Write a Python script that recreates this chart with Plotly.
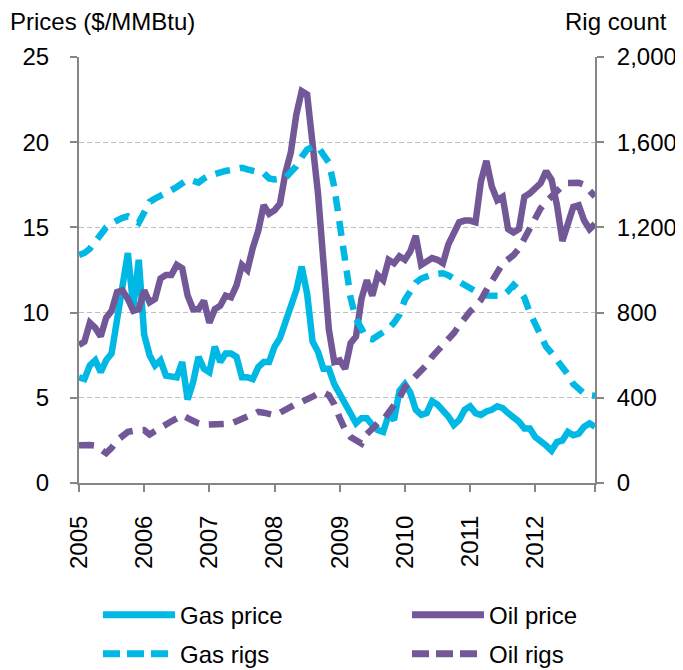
import plotly.graph_objects as go

# monthly, Jan 2005 .. Dec 2012
months = list(range(96))
years = ["2005", "2006", "2007", "2008", "2009", "2010", "2011", "2012"]

gas_price = [
    6.2, 6.1, 6.9, 7.2, 6.5, 7.2, 7.6, 9.5, 11.8, 13.5, 10.3, 13.1,
    8.7, 7.5, 6.9, 7.2, 6.3, 6.2, 6.2, 7.1, 4.9, 5.9, 7.4, 6.7,
    6.5, 8.0, 7.1, 7.6, 7.6, 7.4, 6.2, 6.2, 6.1, 6.8, 7.1, 7.1,
    8.0, 8.5, 9.4, 10.2, 11.3, 12.7, 11.1, 8.3, 7.7, 6.7, 6.7, 5.8,
    5.2, 4.5, 4.0, 3.5, 3.8, 3.8, 3.4, 3.1, 3.0, 4.0, 3.7, 5.4,
    5.8, 5.3, 4.3, 4.0, 4.1, 4.8, 4.6, 4.3, 3.9, 3.4, 3.7, 4.3,
    4.5, 4.1, 4.0, 4.2, 4.3, 4.5, 4.4, 4.1, 3.9, 3.6, 3.2, 3.2,
    2.7, 2.5, 2.2, 1.9, 2.4, 2.5, 3.0, 2.8, 2.9, 3.3, 3.5, 3.3,
]

oil_price = [
    8.1, 8.3, 9.4, 9.1, 8.6, 9.7, 10.1, 11.2, 11.3, 10.8, 10.1, 10.2,
    11.3, 10.6, 10.8, 12.0, 12.2, 12.2, 12.8, 12.6, 11.0, 10.2, 10.2, 10.7,
    9.4, 10.2, 10.4, 11.0, 10.9, 11.6, 12.8, 12.5, 13.8, 14.8, 16.3, 15.8,
    16.0, 16.4, 18.2, 19.4, 21.6, 23.0, 22.8, 20.2, 17.0, 13.0, 9.0, 7.1,
    7.2, 6.7, 8.2, 8.6, 10.8, 11.9, 11.0, 12.2, 11.9, 13.1, 12.9, 13.3,
    13.1, 13.6, 14.5, 12.8, 13.0, 13.2, 13.1, 12.9, 14.0, 14.6, 15.3, 15.4,
    15.4, 15.3, 17.7, 18.9, 17.4, 16.6, 16.8, 14.9, 14.7, 14.9, 16.8, 17.0,
    17.3, 17.6, 18.3, 17.8, 16.3, 14.2, 15.2, 16.2, 16.3, 15.4, 14.9, 15.2,
]

gas_rigs = [
    1071, 1080, 1100, 1134, 1170, 1200, 1220, 1235, 1245, 1252, 1240, 1222,
    1270, 1320, 1335, 1346, 1360, 1375, 1390, 1405, 1424, 1418, 1410, 1430,
    1445, 1450, 1460, 1465, 1470, 1478, 1480, 1472, 1463, 1460, 1455, 1430,
    1425, 1428, 1432, 1460, 1487, 1530, 1565, 1578, 1580, 1540, 1505, 1390,
    1230, 1030, 870, 770, 720, 680, 675, 690, 703, 725, 752, 790,
    860, 900, 940, 960, 972, 978, 982, 985, 975, 960, 940, 925,
    910, 895, 885, 880, 878, 876, 878, 900, 930, 905, 870, 800,
    750, 700, 640, 610, 580, 545, 510, 465, 440, 420, 412, 410,
]

oil_rigs = [
    177, 180, 178, 175, 160, 140, 165, 200, 220, 240, 245, 245,
    248, 228, 245, 262, 275, 290, 303, 318, 305, 288, 280, 273,
    275, 271, 272, 275, 279, 290, 303, 312, 320, 334, 330, 320,
    318, 330, 345, 360, 372, 381, 390, 405, 420, 425, 412, 370,
    305, 250, 216, 200, 185, 230, 260, 280, 295, 330, 358, 400,
    450, 475, 500, 522, 555, 593, 620, 648, 675, 703, 740, 775,
    805, 830, 860, 905, 950, 990, 1030, 1050, 1070, 1100, 1150, 1190,
    1240, 1290, 1320, 1345, 1375, 1395, 1409, 1412, 1410, 1400, 1370, 1345,
]

CYAN = "#00B8E4"
PURPLE = "#725896"
AXIS = "#868686"
FONT = "Liberation Sans, Arial, sans-serif"

fig = go.Figure()
fig.add_trace(go.Scatter(x=months, y=gas_rigs, yaxis="y2", mode="lines",
                         line=dict(color=CYAN, width=6.5, dash="15px,10px")))
fig.add_trace(go.Scatter(x=months, y=oil_rigs, yaxis="y2", mode="lines",
                         line=dict(color=PURPLE, width=6.5, dash="15px,10px")))
fig.add_trace(go.Scatter(x=months, y=gas_price, mode="lines",
                         line=dict(color=CYAN, width=6.5)))
fig.add_trace(go.Scatter(x=months, y=oil_price, mode="lines",
                         line=dict(color=PURPLE, width=6.5)))

# page pixel -> paper coords (plot area spans x 79..595, y 57..483 on the page)
def px_x(p):
    return (p - 79) / 516.0

def px_y(p):
    return (483.3 - p) / 426.0

# hand-made legend (Excel style long line samples)
legend_items = [
    ("Gas price", CYAN, None, 103, 615),
    ("Oil price", PURPLE, None, 412, 615),
    ("Gas rigs", CYAN, "17px,7px", 103, 654),
    ("Oil rigs", PURPLE, "17px,7px", 412, 654),
]
shapes = []
annotations = []
for name, col, dash, x0, y0 in legend_items:
    ln = dict(color=col, width=7)
    if dash:
        ln["dash"] = dash
    shapes.append(dict(type="line", xref="paper", yref="paper",
                       x0=px_x(x0), x1=px_x(x0 + 72), y0=px_y(y0), y1=px_y(y0),
                       line=ln))
    annotations.append(dict(text=name, xref="paper", yref="paper",
                            x=px_x(x0 + 75), y=px_y(y0 + 1), xanchor="left",
                            yanchor="middle", showarrow=False,
                            font=dict(size=24, color="black", family=FONT)))

annotations.append(dict(text="Prices ($/MMBtu)", xref="paper", yref="paper",
                        x=px_x(8), y=px_y(21.5), xanchor="left", yanchor="middle",
                        showarrow=False, font=dict(size=24, color="black", family=FONT)))
annotations.append(dict(text="Rig count", xref="paper", yref="paper",
                        x=px_x(669), y=px_y(21.5), xanchor="right", yanchor="middle",
                        showarrow=False, font=dict(size=24, color="black", family=FONT)))

fig.update_layout(
    width=683,
    height=670,
    # page body has an 8px margin, so margins are offset by it
    margin=dict(l=71, r=96, t=49, b=195, autoexpand=False),
    paper_bgcolor="white",
    plot_bgcolor="white",
    showlegend=False,
    font=dict(family=FONT, size=24, color="black"),
    shapes=shapes,
    annotations=annotations,
    xaxis=dict(
        range=[0, 95],
        tickvals=[0, 12, 24, 36, 48, 60, 72, 84, 95],
        ticktext=years + [""],
        tickangle=-90,
        ticks="outside",
        ticklen=7,
        tickwidth=2,
        tickcolor=AXIS,
        showline=True,
        linecolor=AXIS,
        linewidth=2,
        showgrid=False,
        zeroline=False,
        automargin=False,
        ticklabelstandoff=14,
    ),
    yaxis=dict(
        range=[0, 25],
        dtick=5,
        ticks="outside",
        ticklen=7,
        tickwidth=2,
        tickcolor=AXIS,
        showline=True,
        linecolor=AXIS,
        linewidth=2,
        showgrid=True,
        gridcolor="#BFBFBF",
        gridwidth=1.3,
        griddash="5px,3px",
        zeroline=False,
        automargin=False,
        ticklabelstandoff=16,
    ),
    yaxis2=dict(
        range=[0, 2000],
        dtick=400,
        tickformat=",",
        overlaying="y",
        side="right",
        ticks="outside",
        ticklen=7,
        tickwidth=2,
        tickcolor=AXIS,
        showline=True,
        linecolor=AXIS,
        linewidth=2,
        showgrid=False,
        zeroline=False,
        automargin=False,
        ticklabelstandoff=8,
    ),
)

fig.write_html("out.html")
